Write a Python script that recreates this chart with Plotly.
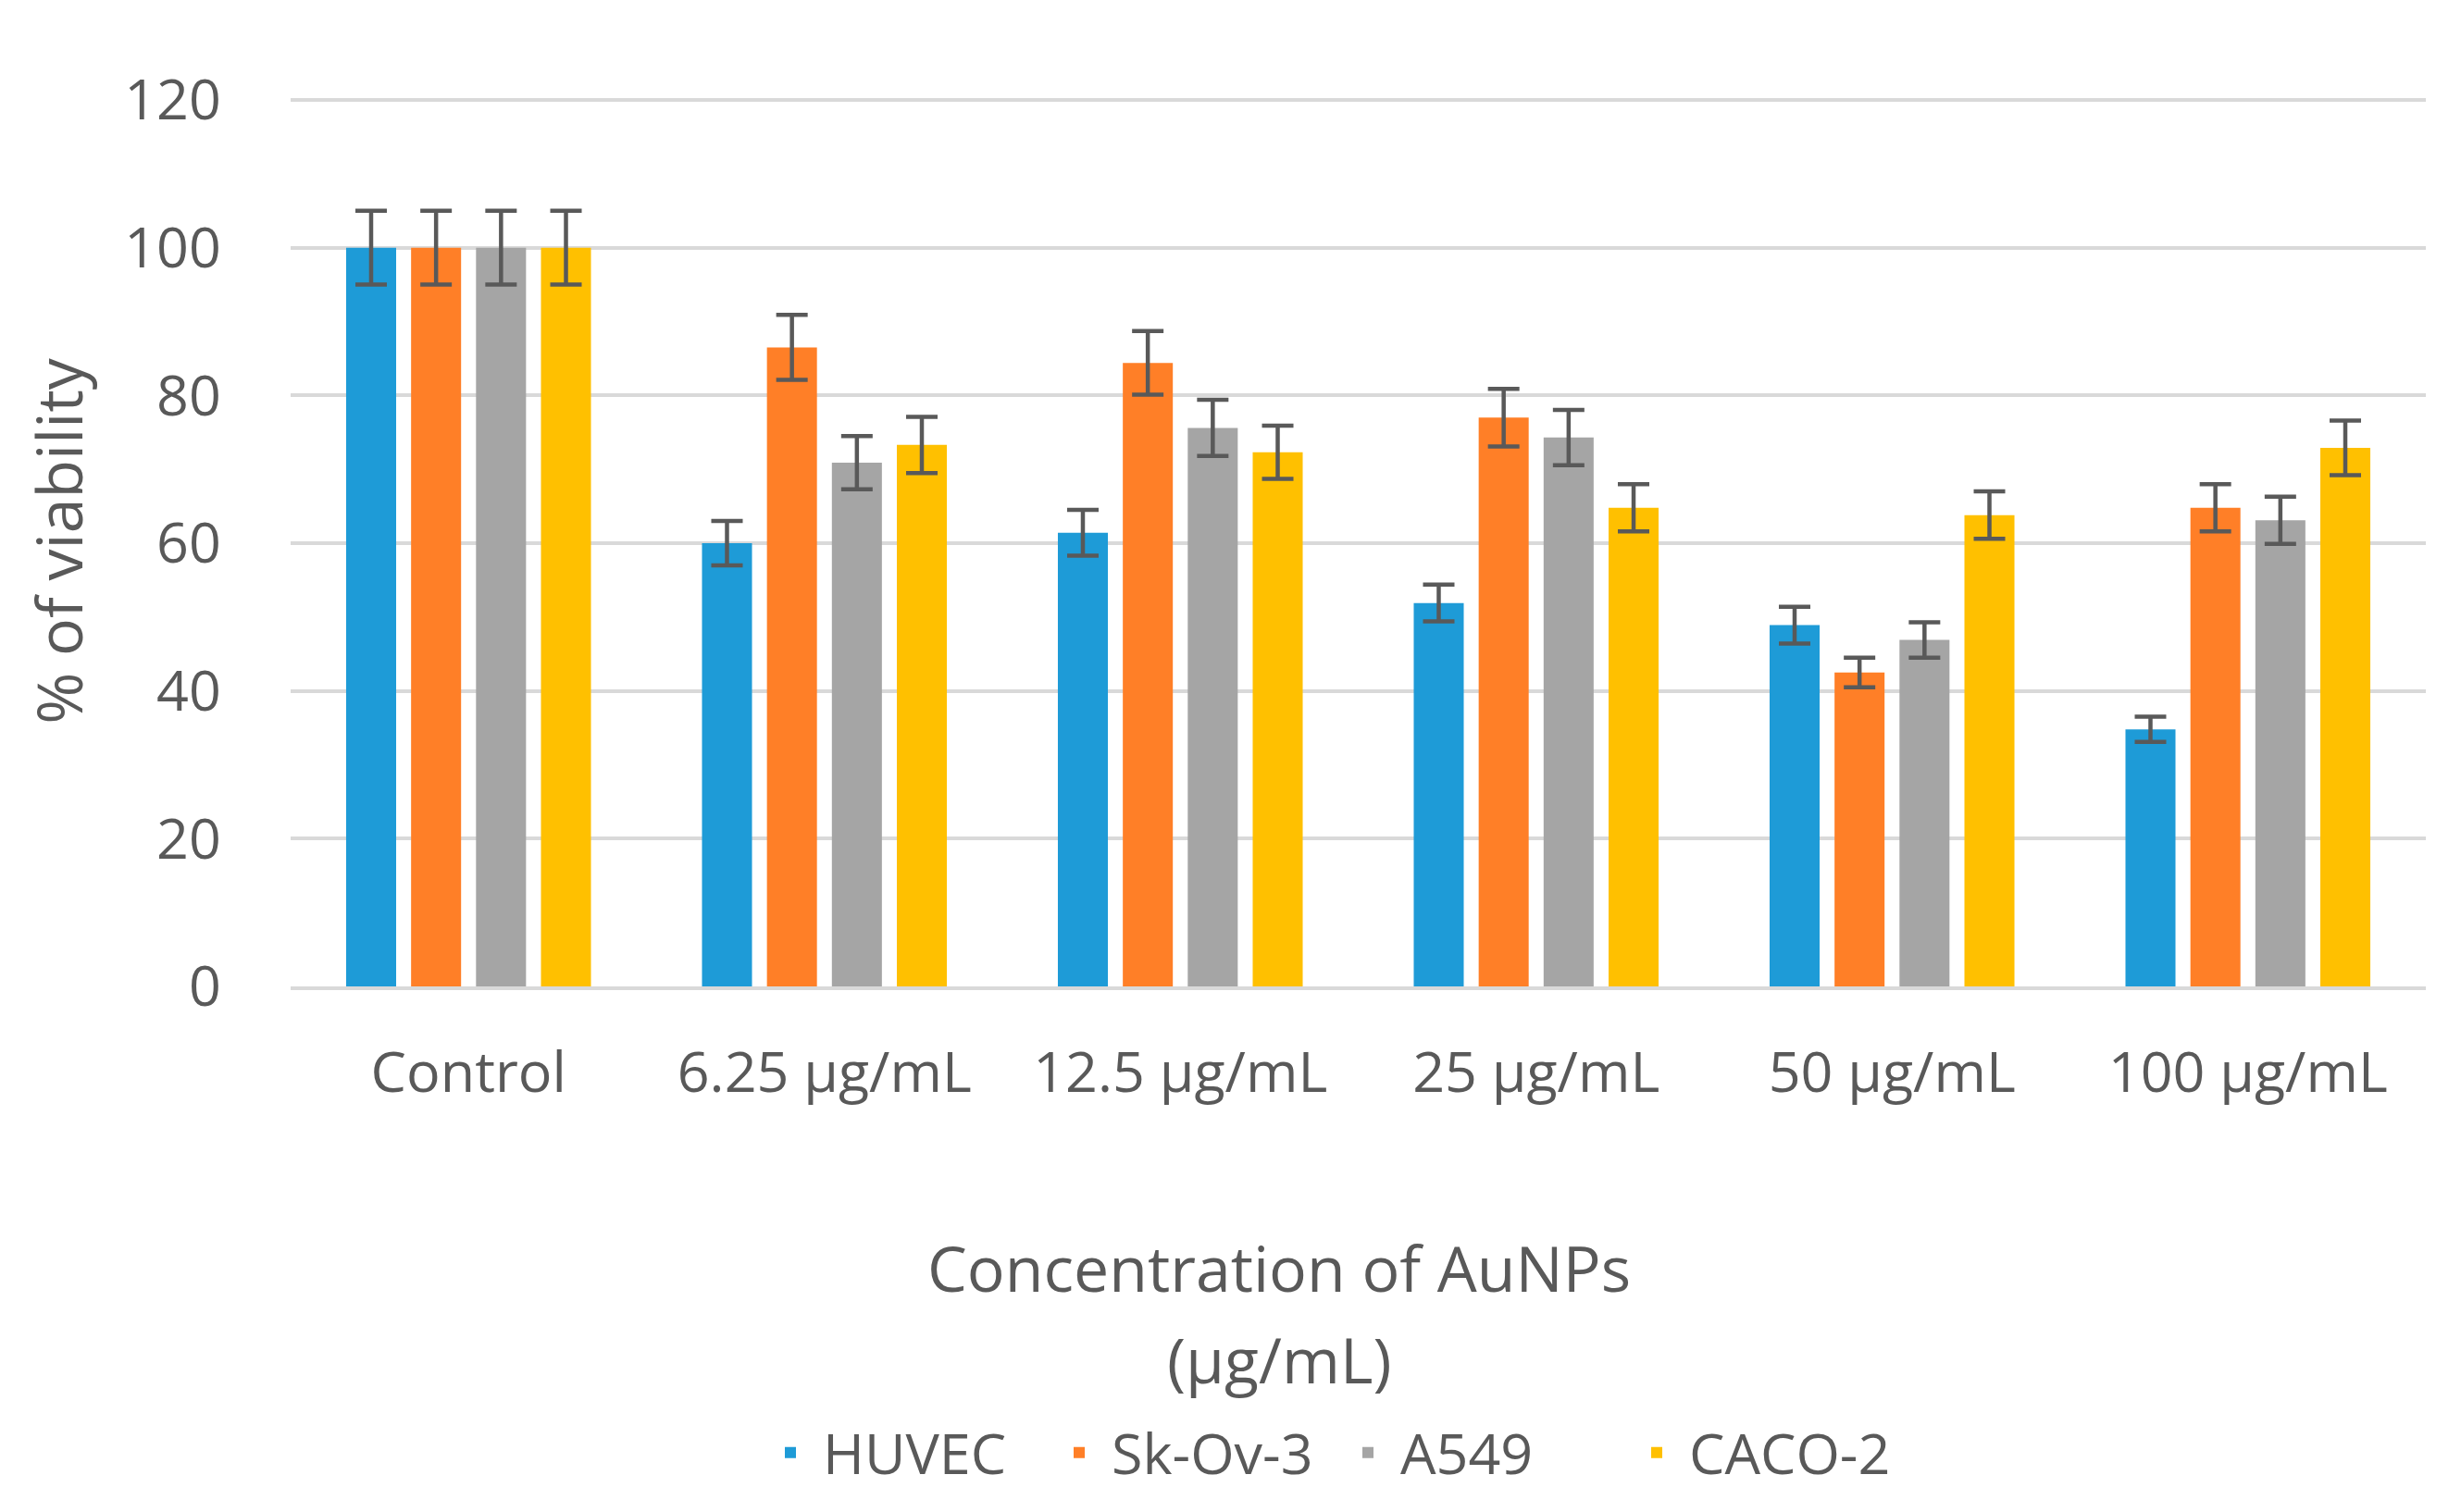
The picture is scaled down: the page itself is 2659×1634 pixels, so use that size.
import plotly.graph_objects as go

categories = ["Control", "6.25 µg/mL", "12.5 µg/mL", "25 µg/mL", "50 µg/mL", "100 µg/mL"]
series_names = ["HUVEC", "Sk-Ov-3", "A549", "CACO-2"]
huvec = [100, 60.0, 61.4, 51.9, 48.9, 34.8]
huvec_err = [5.0, 3.0, 3.1, 2.5, 2.5, 1.7]
skov3 = [100, 86.5, 84.4, 77.0, 42.5, 64.8]
skov3_err = [5.0, 4.4, 4.3, 3.9, 2.0, 3.2]
a549 = [100, 70.9, 75.6, 74.3, 46.9, 63.1]
a549_err = [5.0, 3.6, 3.8, 3.75, 2.4, 3.2]
caco2 = [100, 73.3, 72.3, 64.8, 63.8, 72.9]
caco2_err = [5.0, 3.8, 3.6, 3.2, 3.2, 3.7]
colors = ["#1E9BD7", "#FF7F27", "#A5A5A5", "#FFC000"]
y_ticks = [0, 20, 40, 60, 80, 100, 120]
x_title_lines = ["Concentration of AuNPs", "(µg/mL)"]
y_title = "% of viability"

values = [huvec, skov3, a549, caco2]
errors = [huvec_err, skov3_err, a549_err, caco2_err]

FONT = "Open Sans"
TXT = "#595959"
W, H = 2659, 1634
ML, MR, MT, MB = 306, 46, 96, 576
plot_h = H - MT - MB
plot_w = W - ML - MR
bottom = H - MB


def px_x(x):
    return (x - ML) / plot_w


def px_y(y):
    return (bottom - y) / plot_h


fig = go.Figure()
for name, vals, errs, col in zip(series_names, values, errors, colors):
    fig.add_trace(go.Bar(
        name=name, x=categories, y=vals, marker_color=col, marker_line_width=0,
        error_y=dict(type="data", array=errs, visible=True, color="#595959",
                     thickness=4.5, width=17),
    ))

fig.update_layout(
    width=W, height=H,
    margin=dict(l=ML, r=MR, t=MT, b=MB),
    paper_bgcolor="white", plot_bgcolor="white",
    barmode="group", bargap=0.27, bargroupgap=0.23,
    font=dict(family=FONT, color=TXT, size=61),
    showlegend=True,
    legend=dict(orientation="h", x=px_x(811), xanchor="left",
                y=px_y(1562), yanchor="middle",
                font=dict(family=FONT, size=61, color=TXT),
                itemwidth=60, entrywidth=237, entrywidthmode="pixels",
                tracegroupgap=0),
    xaxis=dict(showgrid=False, showline=True, linecolor="#D9D9D9", linewidth=3.5,
               ticks="", ticklabelstandoff=37,
               tickfont=dict(family=FONT, size=61, color=TXT)),
    yaxis=dict(range=[0, 120.5], tickvals=y_ticks, showgrid=True, gridcolor="#D9D9D9",
               gridwidth=3.5, zeroline=False, showline=False,
               ticks="outside", ticklen=62, tickcolor="rgba(0,0,0,0)",
               tickfont=dict(family=FONT, size=61, color=TXT),
               title=dict(text=y_title, font=dict(family=FONT, size=68, color=TXT),
                          standoff=22)),
)

line_y = [1361, 1460]
for txt, yy in zip(x_title_lines, line_y):
    fig.add_annotation(text=txt, xref="paper", yref="paper",
                       x=px_x(1374), y=px_y(yy),
                       xanchor="center", yanchor="middle", showarrow=False,
                       font=dict(family=FONT, size=68, color=TXT))

fig.write_html("out.html")
